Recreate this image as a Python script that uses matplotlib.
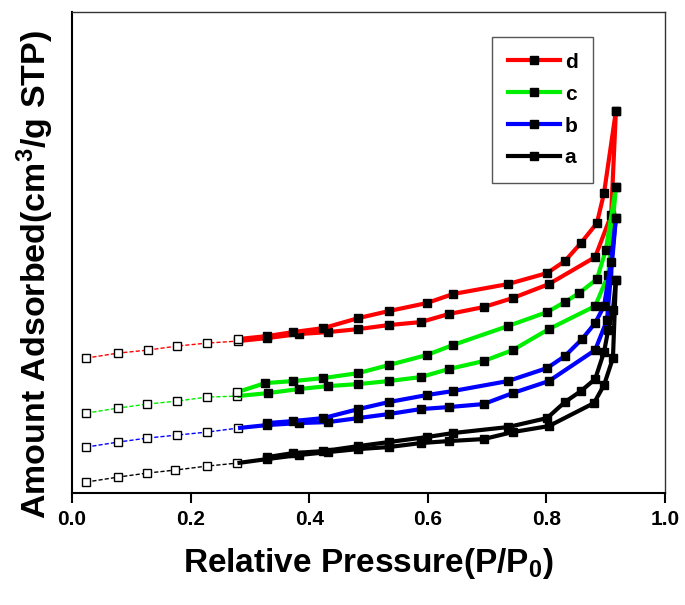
import numpy as np
import matplotlib
matplotlib.use("Agg")
import matplotlib.pyplot as plt
from matplotlib.lines import Line2D

plt.rcParams['font.family'] = ['Liberation Sans', 'DejaVu Sans']
plt.rcParams['font.weight'] = 'bold'
plt.rcParams['mathtext.fontset'] = 'custom'
plt.rcParams['mathtext.rm'] = 'Liberation Sans:bold'
plt.rcParams['mathtext.bf'] = 'Liberation Sans:bold'
plt.rcParams['mathtext.default'] = 'bf'

# ---- data (relative pressure, amount adsorbed in arbitrary units) ----
labels = ['d', 'c', 'b', 'a']
colors = ['#ff0000', '#00ee00', '#0000ff', '#000000']

d_ads_p = [0.024, 0.078, 0.128, 0.177, 0.228, 0.280, 0.329, 0.382, 0.432, 0.483, 0.534, 0.588, 0.635, 0.694, 0.743, 0.804, 0.882, 0.909, 0.917]
d_ads_v = [135, 140, 143, 147, 150, 152, 155, 159, 161, 164, 168, 171, 179, 186, 195, 209, 236, 278, 382]
d_des_p = [0.917, 0.897, 0.885, 0.858, 0.831, 0.801, 0.735, 0.642, 0.598, 0.534, 0.483, 0.424, 0.373, 0.329, 0.280]
d_des_v = [382, 300, 270, 250, 232, 220, 209, 199, 190, 182, 175, 165, 161, 157, 154]

c_ads_p = [0.024, 0.078, 0.127, 0.177, 0.228, 0.279, 0.331, 0.382, 0.432, 0.483, 0.534, 0.588, 0.635, 0.694, 0.743, 0.804, 0.882, 0.904, 0.917]
c_ads_v = [80, 85, 89, 92, 96, 97, 100, 104, 107, 109, 112, 116, 124, 132, 143, 164, 187, 218, 306]
c_des_p = [0.917, 0.900, 0.885, 0.855, 0.831, 0.801, 0.735, 0.642, 0.598, 0.534, 0.483, 0.424, 0.373, 0.326, 0.279]
c_des_v = [306, 243, 214, 200, 191, 181, 167, 148, 138, 128, 120, 115, 112, 110, 101]

b_ads_p = [0.024, 0.078, 0.127, 0.177, 0.228, 0.280, 0.329, 0.382, 0.432, 0.483, 0.534, 0.588, 0.635, 0.694, 0.743, 0.804, 0.882, 0.902, 0.917]
b_ads_v = [46, 51, 55, 58, 61, 65, 68, 70, 71, 75, 79, 84, 86, 89, 100, 112, 143, 173, 275]
b_des_p = [0.917, 0.909, 0.897, 0.882, 0.860, 0.831, 0.801, 0.735, 0.642, 0.598, 0.534, 0.483, 0.424, 0.373, 0.329]
b_des_v = [275, 231, 187, 170, 154, 137, 125, 112, 102, 98, 91, 84, 75, 72, 70]

a_ads_p = [0.024, 0.078, 0.127, 0.174, 0.228, 0.279, 0.329, 0.382, 0.432, 0.483, 0.534, 0.588, 0.635, 0.694, 0.743, 0.804, 0.880, 0.897, 0.912, 0.917]
a_ads_v = [11, 16, 20, 23, 27, 30, 34, 38, 41, 44, 46, 50, 52, 54, 61, 67, 90, 108, 135, 213]
a_des_p = [0.917, 0.912, 0.904, 0.897, 0.882, 0.858, 0.831, 0.801, 0.735, 0.642, 0.598, 0.534, 0.483, 0.424, 0.373, 0.329]
a_des_v = [213, 183, 163, 141, 114, 102, 91, 75, 66, 60, 56, 51, 47, 42, 40, 36]

series = [
    (d_ads_p, d_ads_v, d_des_p, d_des_v),
    (c_ads_p, c_ads_v, c_des_p, c_des_v),
    (b_ads_p, b_ads_v, b_des_p, b_des_v),
    (a_ads_p, a_ads_v, a_des_p, a_des_v),
]

fig = plt.figure(figsize=(6.85, 6.05), dpi=100)
ax = fig.add_axes([0.105, 0.185, 0.866, 0.795])

P_SWITCH = 0.285
MS = 5.5
for (ap, av, dp, dv), col in zip(series, colors):
    ap = np.array(ap); av = np.array(av); dp = np.array(dp); dv = np.array(dv)
    low = ap <= P_SWITCH
    n_low = int(low.sum())
    # low-pressure part: thin dashed with open squares
    ax.plot(ap[:n_low], av[:n_low], color=col, lw=1.0, ls=(0, (3, 1.5)),
            marker='s', ms=MS, mfc='white', mec='black', mew=1.0, zorder=3)
    # higher pressure adsorption branch: thick solid with filled squares
    ax.plot(ap[n_low - 1:], av[n_low - 1:], color=col, lw=3.0, solid_capstyle='butt',
            marker='s', ms=MS, mfc='black', mec='black',
            markevery=list(range(1, len(ap) - n_low + 1)), zorder=3)
    # desorption branch
    dlow = dp <= P_SWITCH
    ax.plot(dp, dv, color=col, lw=3.0, marker='s', ms=MS, mfc='black', mec='black',
            markevery=[i for i in range(len(dp)) if not dlow[i]], zorder=3)
    if dlow.any():
        ax.plot(dp[dlow], dv[dlow], ls='none', marker='s', ms=MS, mfc='white', mec='black', zorder=4)

ax.set_xlim(0.0, 1.0)
ax.set_ylim(0, 481)
ax.set_xticks([0.0, 0.2, 0.4, 0.6, 0.8, 1.0])
ax.set_xticklabels(['0.0', '0.2', '0.4', '0.6', '0.8', '1.0'])
ax.set_yticks([])
ax.tick_params(axis='x', direction='out', length=7, width=1.5, labelsize=15, pad=5)
for lab in ax.get_xticklabels():
    lab.set_fontweight('bold')
for s in ['left', 'bottom']:
    ax.spines[s].set_linewidth(1.5)
for s in ['top', 'right']:
    ax.spines[s].set_linewidth(1.0)
    ax.spines[s].set_color('#333333')

ax.set_xlabel('Relative Pressure(P/P$_0$)', fontsize=24, fontweight='bold')
ax.xaxis.set_label_coords(0.5, -0.11)
ax.set_ylabel('Amount Adsorbed(cm$^3$/g STP)', fontsize=24.5, fontweight='bold')
ax.yaxis.set_label_coords(-0.027, 0.455)

handles = [Line2D([], [], color=c, lw=3, marker='s', ms=MS, mfc='black', mec='black') for c in colors]
leg = ax.legend(handles, labels, loc='upper left', bbox_to_anchor=(0.708, 0.948),
                borderaxespad=0.0, frameon=True, fancybox=False, framealpha=1,
                edgecolor='#555555', prop={'size': 15, 'weight': 'bold'},
                handlelength=2.5, labelspacing=0.62, borderpad=0.75,
                handletextpad=0.25, numpoints=1)
leg.get_frame().set_linewidth(1.0)

fig.savefig('out.png', dpi=100, facecolor='white')
